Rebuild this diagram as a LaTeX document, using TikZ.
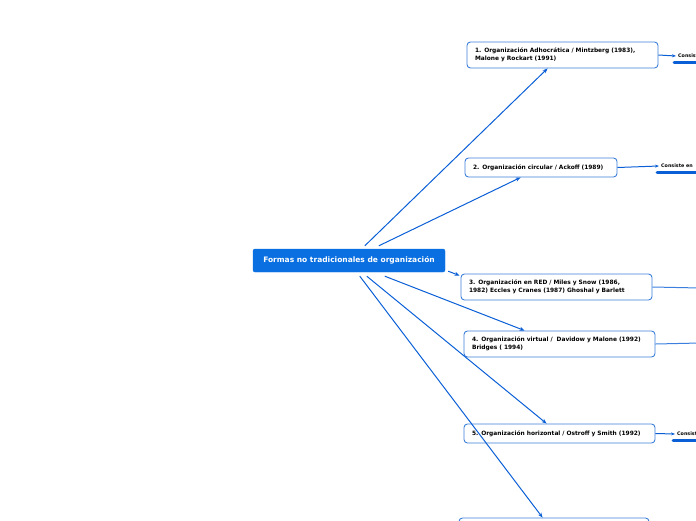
\documentclass[tikz,border=0pt]{standalone}
\usepackage{fontspec}
\setmainfont{DejaVu Sans}
\usetikzlibrary{arrows.meta}
\definecolor{mainblue}{HTML}{0A6FE0}
\definecolor{lineblue}{HTML}{0B5FD6}
\definecolor{boxblue}{HTML}{3D7FD9}
\tikzset{
  centerbox/.style={draw=mainblue, fill=mainblue, rounded corners=2pt, minimum width=192pt, minimum height=23pt, text=white, font=\fontsize{7.5}{9}\selectfont\bfseries, inner sep=0pt},
  topicbox/.style={draw=boxblue, line width=0.9pt, fill=white, rounded corners=3.5pt, minimum width=191pt, inner xsep=8pt, inner ysep=0pt, align=left, text width=175pt, font=\fontsize{5.9}{8}\selectfont\bfseries},
  conn/.style={draw=lineblue, line width=1pt, -{Stealth[length=5pt,width=4pt]}},
  plain/.style={draw=lineblue!80, line width=1pt},
  lbl/.style={anchor=west, inner sep=0pt, font=\fontsize{4.8}{5}\selectfont\bfseries},
  uline/.style={draw=lineblue, line width=3pt, line cap=round}
}
\begin{document}
\begin{tikzpicture}[x=1pt,y=-1pt]
\useasboundingbox (0,0) rectangle (696,520);
\clip (0,0) rectangle (696,520);

\node[centerbox] (c) at (349,260.5) {Formas no tradicionales de organización};

\node[topicbox, minimum height=26pt] (n1) at (562.5,55) {1. Organización Adhocrática / Mintzberg (1983),\\Malone y Rockart (1991)};
\node[topicbox, minimum width=152pt, text width=136pt, minimum height=19pt] (n2) at (541,167.5) {2. Organización circular / Ackoff (1989)};
\node[topicbox, minimum height=26pt] (n3) at (556.5,287) {3. Organización en RED / Miles y Snow (1986,\\1982) Eccles y Cranes (1987) Ghoshal y Barlett};
\node[topicbox, minimum height=26pt] (n4) at (559.5,344) {4. Organización virtual /\ \ Davidow y Malone (1992)\\Bridges ( 1994)};
\node[topicbox, minimum height=19pt] (n5) at (559.5,433.5) {5. Organización horizontal / Ostroff y Smith (1992)};
\node[topicbox, minimum width=190pt, text width=174pt, minimum height=26pt] (n6) at (554,531) {};

% connectors from the central node
\draw[conn] ([xshift=112pt,yshift=3pt]c.north west) -- ([xshift=81pt]n1.south west);
\draw[conn] ([xshift=126pt,yshift=3pt]c.north west) -- ([xshift=56pt]n2.south west);
\draw[conn] ([xshift=3pt,yshift=1pt]c.south east) -- ([xshift=-1pt,yshift=-2pt]n3.north west);
\draw[conn] ([xshift=132pt,yshift=-4pt]c.south west) -- ([xshift=61pt]n4.north west);
\draw[conn] ([xshift=114pt,yshift=-4pt]c.south west) -- ([xshift=83pt]n5.north west);
\draw[conn] ([xshift=107pt,yshift=-4pt]c.south west) -- ([xshift=84pt]n6.north west);

% right side
\node[lbl] (l1) at (678,56) {Consiste en};
\node[lbl] (l2) at (661,166) {Consiste en};
\node[lbl] (l5) at (677,434) {Consiste en};
\coordinate (r3) at (700,288);
\coordinate (r4) at (700,343);

\draw[conn, -{Stealth[length=4pt,width=3pt]}] (n1.east) -- ([xshift=-2pt]l1.west);
\draw[conn, -{Stealth[length=4pt,width=3pt]}] (n2.east) -- ([xshift=-2pt]l2.west);
\draw[conn, -{Stealth[length=4pt,width=3pt]}] (n5.east) -- ([xshift=-2pt]l5.west);
\draw[plain] (n3.east) -- (r3);
\draw[plain] (n4.east) -- (r4);

\draw[uline] ([xshift=-4pt,yshift=-4pt]l1.south west) -- ++(60,0);
\draw[uline] ([xshift=-4pt,yshift=-4pt]l2.south west) -- ++(60,0);
\draw[uline] ([xshift=-4pt,yshift=-4pt]l5.south west) -- ++(60,0);
\end{tikzpicture}
\end{document}
